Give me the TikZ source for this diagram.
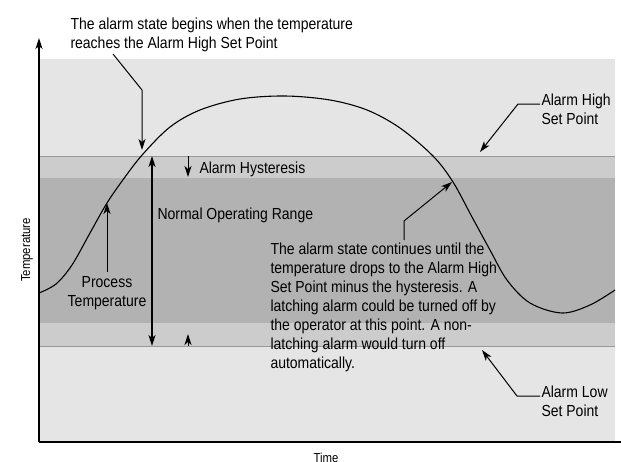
\documentclass[tikz,border=0pt]{standalone}
\usepackage{fontspec}
\setmainfont{Liberation Sans}[FakeStretch=0.875]
\usetikzlibrary{arrows.meta}

\begin{document}
\begin{tikzpicture}[x=1pt, y=-1pt, line width=1pt,
  >={Stealth[length=11pt, width=7pt, inset=3pt]},
  every node/.style={font=\fontsize{16}{19}\selectfont, inner sep=0pt},
  lbl/.style={anchor=base west, align=left},
  axislbl/.style={font=\fontsize{13}{15}\selectfont},
  setline/.style={gray!80, line width=0.8pt}]
  \useasboundingbox (0,0) rectangle (621,461);

  % Bands: alarm zone, hysteresis, normal range
  \fill[gray!20] (39,59) rectangle (615,442);
  \fill[gray!40] (39,156) rectangle (615,346);
  \fill[gray!60] (39,178) rectangle (615,323);
  \draw[setline] (39,156) -- (615,156);
  \draw[setline] (39,346) -- (615,346);

  % Axes
  \coordinate (O) at (39,442);
  \coordinate (ytop) at (39,38);
  \coordinate (xend) at (621,442);
  \draw[->, line width=1.3pt] (O) -- (ytop);
  \draw[line width=1.3pt] (O) -- (xend);
  \node[axislbl, rotate=90] (ylbl) at (27,250) {Temperature};
  \node[axislbl, anchor=base] (xlbl) at (326,462) {Time};

  % Process temperature
  \draw[line width=1.1pt] plot[smooth, tension=0.55] coordinates {
    (39,293) (56,284) (72,265) (90,233) (107,203) (125,177) (143,154)
    (170,127) (200,110) (240,99) (285,96) (330,100) (367,110) (400,128)
    (433,156) (453,182) (472,217) (490,250) (507,280) (530,303) (562,313)
    (590,305) (615,290)};

  % Labels (multi-line: base = last line)
  \node[lbl] (begintxt) at (70,48) {The alarm state begins when the temperature\\reaches the Alarm High Set Point};
  \node[lbl] (hightxt) at (541,124) {Alarm High\\Set Point};
  \node[lbl] (lowtxt) at (541,416) {Alarm Low\\Set Point};
  \node[lbl] (hysttxt) at (199,173) {Alarm Hysteresis};
  \node[lbl] (normtxt) at (157,219) {Normal Operating Range};
  \node[anchor=base, align=center] (proctxt) at (107,306) {Process\\Temperature};
  \node[lbl] (conttxt) at (270,368) {The alarm state continues until the\\temperature drops to the Alarm High\\Set Point minus the hysteresis. A\\latching alarm could be turned off by\\the operator at this point. A non-\\latching alarm would turn off\\automatically.};

  % Leader points
  \coordinate (beginA) at (113,54);
  \coordinate (beginB) at (142,90);
  \coordinate (beginC) at (142,150);
  \coordinate (highA) at (540,104);
  \coordinate (highB) at (518,104);
  \coordinate (highC) at (480,152);
  \coordinate (contA) at (404,240);
  \coordinate (contB) at (404,221);
  \coordinate (contC) at (452,182);
  \coordinate (lowA) at (540,396);
  \coordinate (lowB) at (517,396);
  \coordinate (lowC) at (482,350);
  \coordinate (normtop) at (152,156);
  \coordinate (normbot) at (152,346);
  \coordinate (hystA) at (188,156);
  \coordinate (hystB) at (188,177);
  \coordinate (hystC) at (188,346);
  \coordinate (hystD) at (188,334);
  \coordinate (procA) at (107,272);
  \coordinate (procB) at (107,203);

  % Arrows
  \draw[->] (beginA) -- (beginB) -- (beginC);
  \draw[->] (highA) -- (highB) -- (highC);
  \draw[->] (contA) -- (contB) -- (contC);
  \draw[->] (lowA) -- (lowB) -- (lowC);
  \draw[<->, line width=1.6pt] (normtop) -- (normbot);
  \draw[->] (hystA) -- (hystB);
  \draw[->] (hystC) -- (hystD);
  \draw[->] (procA) -- (procB);
\end{tikzpicture}
\end{document}
